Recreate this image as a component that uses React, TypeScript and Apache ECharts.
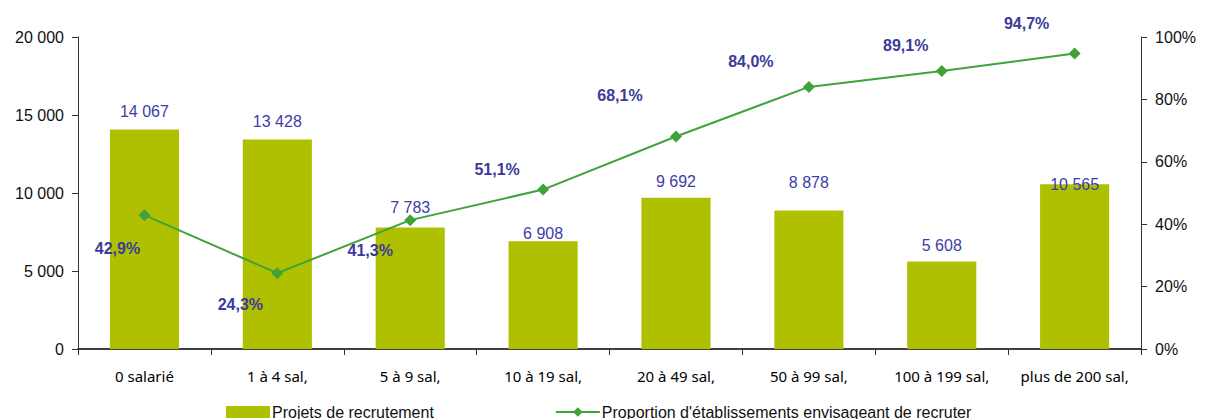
import React, { useEffect, useRef } from "react";
import * as echarts from "echarts";

const categories = [
  "0 salarié",
  "1 à 4 sal,",
  "5 à 9 sal,",
  "10 à 19 sal,",
  "20 à 49 sal,",
  "50 à 99 sal,",
  "100 à 199 sal,",
  "plus de 200 sal,",
];
const projets = [14067, 13428, 7783, 6908, 9692, 8878, 5608, 10565];
const proportion = [42.9, 24.3, 41.3, 51.1, 68.1, 84.0, 89.1, 94.7];
const leftTicks = [0, 5000, 10000, 15000, 20000];
const rightTicks = [0, 20, 40, 60, 80, 100];

// label placement tweaks (offsets in px)
const barLabelOffsets: [number, number][] = [
  [0, -10], [0, -10], [0, -12], [0, 0], [0, -8], [0, -20], [0, -8], [0, 8],
];
const lineLabelOffsets: [number, number][] = [
  [-27, 33], [-37, 31], [-40, 30], [-46, -20], [-56, -41], [-58, -25], [-36, -26], [-48, -30],
];

const fmtThousands = (v: number) =>
  String(v).replace(/\B(?=(\d{3})+(?!\d))/g, " ");

export default function App() {
  const ref = useRef<HTMLDivElement>(null);
  useEffect(() => {
    if (!ref.current) return;
    const chart = echarts.init(ref.current, null, { renderer: "svg" });
    chart.setOption({
      animation: false,
      textStyle: { fontFamily: "Liberation Sans, Arial, sans-serif" },
      grid: { left: 70, right: 49, top: 29, bottom: 70 },
      legend: {
        top: 391,
        left: 213,
        itemGap: 121,
        itemWidth: 44,
        itemHeight: 12,
        textStyle: { fontSize: 16, color: "#111", fontFamily: "Liberation Sans, Arial, sans-serif", padding: [0, 0, 0, -3] },
        data: [
          { name: "Projets de recrutement", icon: "rect" },
          { name: "Proportion d'établissements envisageant de recruter" },
        ],
      },
      xAxis: {
        type: "category",
        data: categories,
        axisLine: { lineStyle: { color: "#000", width: 1.5 } },
        axisTick: { show: true, length: 6, alignWithLabel: false, lineStyle: { color: "#333" } },
        axisLabel: {
          fontSize: 15,
          fontWeight: "normal",
          color: "#000",
          margin: 19,
          fontFamily: "Noto Sans, Open Sans, sans-serif",
          interval: 0,
        },
      },
      yAxis: [
        {
          type: "value",
          min: 0,
          max: 20000,
          interval: 5000,
          splitLine: { show: false },
          axisLine: { show: true, lineStyle: { color: "#333" } },
          axisTick: { show: true, length: 6, lineStyle: { color: "#333" } },
          axisLabel: {
            fontSize: 16,
            color: "#111",
            margin: 14,
            formatter: (v: number) => (leftTicks.includes(v) ? fmtThousands(v) : ""),
          },
        },
        {
          type: "value",
          min: 0,
          max: 100,
          interval: 20,
          splitLine: { show: false },
          axisLine: { show: true, lineStyle: { color: "#333" } },
          axisTick: { show: true, length: 6, lineStyle: { color: "#333" } },
          axisLabel: {
            fontSize: 16,
            color: "#111",
            margin: 14,
            formatter: (v: number) => (rightTicks.includes(v) ? v + "%" : ""),
          },
        },
      ],
      series: [
        {
          name: "Projets de recrutement",
          type: "bar",
          yAxisIndex: 0,
          barWidth: "52%",
          itemStyle: { color: "#afc000" },
          data: projets.map((v, i) => ({
            value: v,
            label: {
              show: true,
              position: "top",
              distance: 0,
              offset: barLabelOffsets[i],
              fontSize: 16,
              color: "#3d3da8",
              formatter: () => fmtThousands(v),
            },
          })),
        },
        {
          name: "Proportion d'établissements envisageant de recruter",
          type: "line",
          yAxisIndex: 1,
          symbol: "diamond",
          symbolSize: 12,
          lineStyle: { color: "#3fa33a", width: 2 },
          itemStyle: { color: "#3fa33a" },
          data: proportion.map((v, i) => ({
            value: v,
            label: {
              show: true,
              position: "inside",
              offset: lineLabelOffsets[i],
              fontSize: 16,
              fontWeight: "bold",
              color: "#3b3b9c",
              formatter: () => v.toFixed(1).replace(".", ",") + "%",
            },
          })),
        },
      ],
    });
    return () => chart.dispose();
  }, []);
  return <div ref={ref} style={{ width: 1191, height: 411 }} />;
}
